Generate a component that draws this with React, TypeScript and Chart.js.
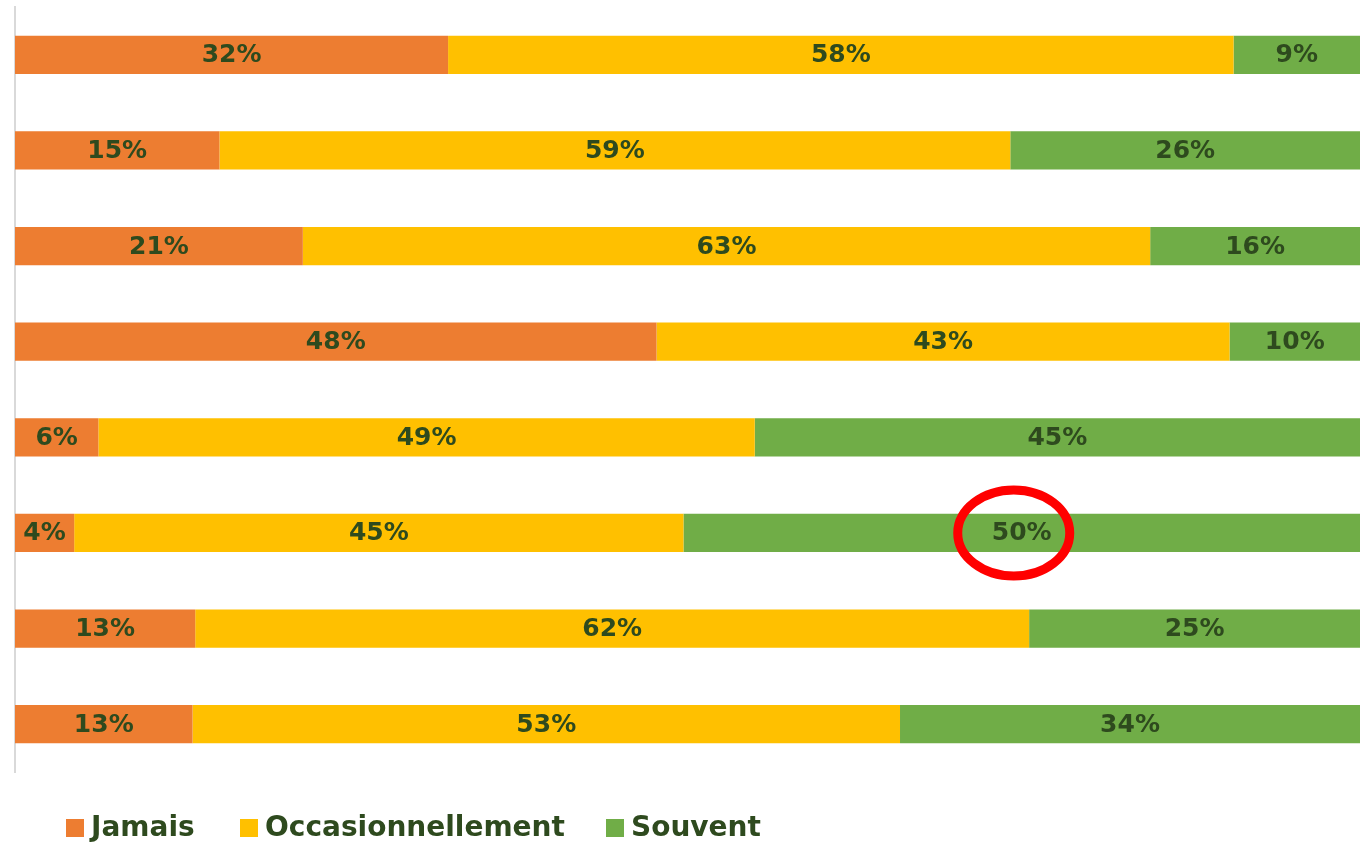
import React, { useEffect, useRef } from "react";
import { Chart, registerables } from "chart.js";

Chart.register(...registerables);

const categories = ["Q1", "Q2", "Q3", "Q4", "Q5", "Q6", "Q7", "Q8"];
const seriesNames = ["Jamais", "Occasionnellement", "Souvent"];
const jamais = [32.2, 15.2, 21.4, 47.7, 6.2, 4.4, 13.4, 13.2];
const occasionnellement = [58.4, 58.8, 63.0, 42.6, 48.8, 45.3, 62.0, 52.6];
const souvent = [9.4, 26.0, 15.6, 9.7, 45.0, 50.3, 24.6, 34.2];
const colors = ["#ED7D31", "#FFC000", "#70AD47"];
const highlight = { dataset: 2, index: 5 };

const TEXT_COLOR = "#2E4A1E";
const FONT = "'DejaVu Sans', sans-serif";

const labelPlugin = {
  id: "segLabels",
  afterDatasetsDraw(chart: any) {
    const ctx = chart.ctx;
    ctx.save();
    ctx.fillStyle = TEXT_COLOR;
    ctx.font = `bold 25px ${FONT}`;
    ctx.textAlign = "center";
    ctx.textBaseline = "middle";
    chart.data.datasets.forEach((ds: any, di: number) => {
      const meta = chart.getDatasetMeta(di);
      meta.data.forEach((bar: any, i: number) => {
        const v = ds.data[i];
        const left = Math.min(bar.x, bar.base);
        const right = Math.max(bar.x, bar.base);
        ctx.fillText(`${Math.round(v)}%`, (left + right) / 2, bar.y + 1);
      });
    });
    // highlight ellipse
    const hb: any = chart.getDatasetMeta(highlight.dataset).data[highlight.index];
    if (hb) {
      const cx = (Math.min(hb.x, hb.base) + Math.max(hb.x, hb.base)) / 2 - 8;
      ctx.beginPath();
      ctx.strokeStyle = "#FF0000";
      ctx.lineWidth = 9;
      ctx.ellipse(cx, hb.y, 56, 43, 0, 0, Math.PI * 2);
      ctx.stroke();
    }
    // legend
    const legendY = 828;
    const positions = [66, 240, 606];
    ctx.textAlign = "left";
    ctx.font = `bold 28px ${FONT}`;
    seriesNames.forEach((name, k) => {
      ctx.fillStyle = colors[k];
      ctx.fillRect(positions[k], legendY - 9, 18, 18);
      ctx.fillStyle = TEXT_COLOR;
      ctx.fillText(name, positions[k] + 25, legendY + 1);
    });
    ctx.restore();
  },
};

export default function App() {
  const ref = useRef<HTMLCanvasElement>(null);
  useEffect(() => {
    if (!ref.current) return;
    const chart = new Chart(ref.current, {
      type: "bar",
      data: {
        labels: categories,
        datasets: [jamais, occasionnellement, souvent].map((d, k) => ({
          label: seriesNames[k],
          data: d,
          backgroundColor: colors[k],
          borderWidth: 0,
          barPercentage: 0.4,
          categoryPercentage: 1,
        })),
      },
      options: {
        indexAxis: "y",
        animation: false,
        responsive: true,
        maintainAspectRatio: false,
        layout: { padding: { left: 7, right: 4, top: 7, bottom: 70 } },
        plugins: { legend: { display: false }, tooltip: { enabled: false } },
        scales: {
          x: { stacked: true, min: 0, max: 100, display: false },
          y: {
            stacked: true,
            grid: { display: false },
            ticks: { display: false },
            border: { display: true, color: "#D9D9D9", width: 2 },
          },
        },
      },
      plugins: [labelPlugin],
    });
    return () => chart.destroy();
  }, []);
  return (
    <div style={{ position: "absolute", left: 0, top: 0, width: 1364, height: 842, background: "#fff" }}>
      <canvas ref={ref} />
    </div>
  );
}
